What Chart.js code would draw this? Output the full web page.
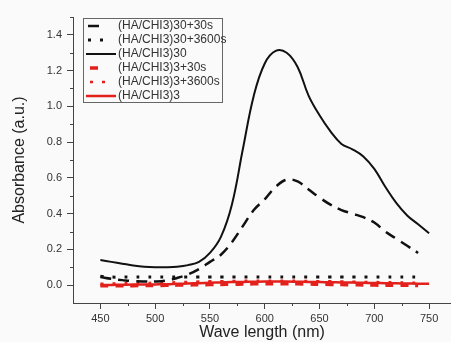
<!DOCTYPE html>
<html>
<head>
<meta charset="utf-8">
<script src="https://cdn.jsdelivr.net/npm/chart.js@4"></script>
<style>
  html, body { margin: 0; padding: 0; background: #fafafa; overflow: hidden; }
  canvas { display: block; }
</style>
</head>
<body>
<canvas id="myChart" width="451" height="342"></canvas>
<script>
// wavelengths (nm)
var waveLength = [450, 460, 470, 480, 490, 500, 510, 520, 530, 540, 550, 560, 570, 580, 590, 600,
                  610, 620, 630, 640, 650, 660, 670, 680, 690, 700, 710, 720, 730, 740, 750];

// series values
var ha30 = [0.14, 0.13, 0.12, 0.11, 0.103, 0.10, 0.10, 0.103, 0.112, 0.13, 0.18, 0.27, 0.45, 0.76, 1.06, 1.24,
            1.31, 1.30, 1.22, 1.06, 0.95, 0.86, 0.79, 0.76, 0.72, 0.65, 0.55, 0.46, 0.39, 0.34, 0.29];
var ha30_30s = [0.045, 0.035, 0.028, 0.022, 0.02, 0.02, 0.025, 0.04, 0.06, 0.09, 0.13, 0.17, 0.24, 0.33, 0.42, 0.48,
                0.55, 0.59, 0.58, 0.535, 0.49, 0.45, 0.42, 0.40, 0.38, 0.35, 0.30, 0.26, 0.22, 0.18, null];
var ha30_3600s = [0.05, 0.045, 0.045, 0.045, 0.045, 0.045, 0.045, 0.045, 0.045, 0.045, 0.045, 0.045, 0.045, 0.045, 0.045, 0.045,
                  0.045, 0.045, 0.045, 0.045, 0.045, 0.045, 0.045, 0.045, 0.045, 0.045, 0.045, 0.045, 0.045, 0.045, null];
var ha3 = [0.0, 0.001, 0.002, 0.003, 0.003, 0.004, 0.005, 0.007, 0.009, 0.011, 0.013, 0.015, 0.017, 0.018, 0.019, 0.02,
           0.02, 0.02, 0.019, 0.018, 0.017, 0.016, 0.015, 0.014, 0.013, 0.012, 0.011, 0.01, 0.009, 0.008, 0.008];
var ha3_30s = [-0.004, -0.004, -0.003, -0.003, -0.002, -0.002, -0.001, 0.0, 0.001, 0.002, 0.003, 0.004, 0.005, 0.006, 0.007, 0.008,
               0.008, 0.008, 0.007, 0.006, 0.005, 0.004, 0.003, 0.002, 0.001, 0.0, 0.0, -0.001, -0.001, -0.002, null];
var ha3_3600s = [0.008, 0.009, 0.01, 0.011, 0.012, 0.013, 0.014, 0.016, 0.018, 0.02, 0.021, 0.022, 0.023, 0.024, 0.025, 0.025,
                 0.025, 0.025, 0.024, 0.023, 0.022, 0.021, 0.02, 0.019, 0.018, 0.017, 0.016, 0.015, 0.014, 0.013, null];

// tick labels
var xTicks = [450, 500, 550, 600, 650, 700, 750];
var xMinor = [475, 525, 575, 625, 675, 725];
var yTicks = [0.0, 0.2, 0.4, 0.6, 0.8, 1.0, 1.2, 1.4];
var yMinor = [0.1, 0.3, 0.5, 0.7, 0.9, 1.1, 1.3, 1.5];

function pts(arr) {
  return waveLength.map(function (w, i) { return { x: w, y: arr[i] }; });
}

var RED = '#e3201b';
var axisColor = '#444';
var fontFam = '"Liberation Sans", Arial, sans-serif';

// legend drawn inside the plot, as in the original figure
var boxLegend = {
  id: 'boxLegend',
  afterDraw: function (chart) {
    var ctx = chart.ctx;
    var x0 = 83, y0 = 18, w = 139, h = 84;
    ctx.save();
    ctx.fillStyle = '#fafafa';
    ctx.fillRect(x0, y0, w, h);
    ctx.strokeStyle = '#666';
    ctx.lineWidth = 1;
    ctx.strokeRect(x0 + 0.5, y0 + 0.5, w, h);
    ctx.font = '12px ' + fontFam;
    ctx.textBaseline = 'middle';
    chart.data.datasets.forEach(function (ds, i) {
      var y = y0 + 8 + i * 14;
      ctx.beginPath();
      ctx.strokeStyle = ds.borderColor;
      ctx.lineWidth = ds.borderWidth;
      ctx.setLineDash(ds.borderDash || []);
      ctx.moveTo(x0 + ds.sample[0], y);
      ctx.lineTo(x0 + ds.sample[1], y);
      ctx.stroke();
      ctx.setLineDash([]);
      ctx.fillStyle = '#333';
      ctx.fillText(ds.label, x0 + 35, y);
    });
    ctx.restore();
  }
};

// short minor ticks
var minorTicks = {
  id: 'minorTicks',
  afterDraw: function (chart) {
    var ctx = chart.ctx, xs = chart.scales.x, ys = chart.scales.y;
    ctx.save();
    ctx.strokeStyle = axisColor;
    ctx.lineWidth = 1;
    ctx.beginPath();
    xMinor.forEach(function (v) {
      var px = Math.round(xs.getPixelForValue(v)) + 0.5;
      ctx.moveTo(px, xs.top);
      ctx.lineTo(px, xs.top + 3);
    });
    yMinor.forEach(function (v) {
      var py = Math.round(ys.getPixelForValue(v)) + 0.5;
      ctx.moveTo(ys.right, py);
      ctx.lineTo(ys.right - 3, py);
    });
    ctx.stroke();
    ctx.restore();
  }
};

var data = {
  datasets: [
    { label: '(HA/CHI3)30+30s', data: pts(ha30_30s), borderColor: '#111', borderWidth: 2.5, borderDash: [11, 7], sample: [5, 16] },
    { label: '(HA/CHI3)30+3600s', data: pts(ha30_3600s), borderColor: '#111', borderWidth: 3, borderDash: [3, 9], sample: [5, 20] },
    { label: '(HA/CHI3)30', data: pts(ha30), borderColor: '#111', borderWidth: 2, sample: [3, 33] },
    { label: '(HA/CHI3)3+30s', data: pts(ha3_30s), borderColor: RED, borderWidth: 3.5, borderDash: [8, 7], sample: [7, 15] },
    { label: '(HA/CHI3)3+3600s', data: pts(ha3_3600s), borderColor: RED, borderWidth: 2.5, borderDash: [3, 9], sample: [7, 22] },
    { label: '(HA/CHI3)3', data: pts(ha3), borderColor: RED, borderWidth: 2.5, sample: [3, 33] }
  ]
};

var config = {
  type: 'line',
  data: data,
  options: {
    responsive: false,
    animation: false,
    devicePixelRatio: 1,
    layout: { padding: { left: 0, top: 17, right: 0, bottom: 0 } },
    elements: {
      point: { radius: 0 },
      line: { tension: 0.4, fill: false }
    },
    plugins: { legend: { display: false }, tooltip: { enabled: false } },
    scales: {
      x: {
        type: 'linear',
        min: 425,
        max: 770,
        afterBuildTicks: function (scale) { scale.ticks = xTicks.map(function (v) { return { value: v }; }); },
        afterFit: function (scale) { scale.height = 39; },
        grid: { drawOnChartArea: false, drawTicks: true, tickLength: 6, color: axisColor },
        border: { display: true, color: axisColor, width: 1 },
        ticks: { color: '#333', padding: 3, maxRotation: 0, font: { family: fontFam, size: 11 } },
        title: { display: true, text: 'Wave length (nm)', color: '#222', padding: { top: 0, bottom: 0 },
                 font: { family: fontFam, size: 16 } }
      },
      y: {
        min: -0.1,
        max: 1.5,
        afterBuildTicks: function (scale) { scale.ticks = yTicks.map(function (v) { return { value: v }; }); },
        afterFit: function (scale) { scale.width = 73; },
        grid: { drawOnChartArea: false, drawTicks: true, tickLength: 6, color: axisColor },
        border: { display: true, color: axisColor, width: 1 },
        ticks: { color: '#333', padding: 5, font: { family: fontFam, size: 11 },
                 callback: function (v) { return Number(v).toFixed(1); } },
        title: { display: true, text: 'Absorbance (a.u.)', color: '#222', padding: { top: 10, bottom: 0 },
                 font: { family: fontFam, size: 16 } }
      }
    }
  },
  plugins: [minorTicks, boxLegend]
};

var myChart = new Chart(document.getElementById('myChart'), config);
</script>
</body>
</html>
